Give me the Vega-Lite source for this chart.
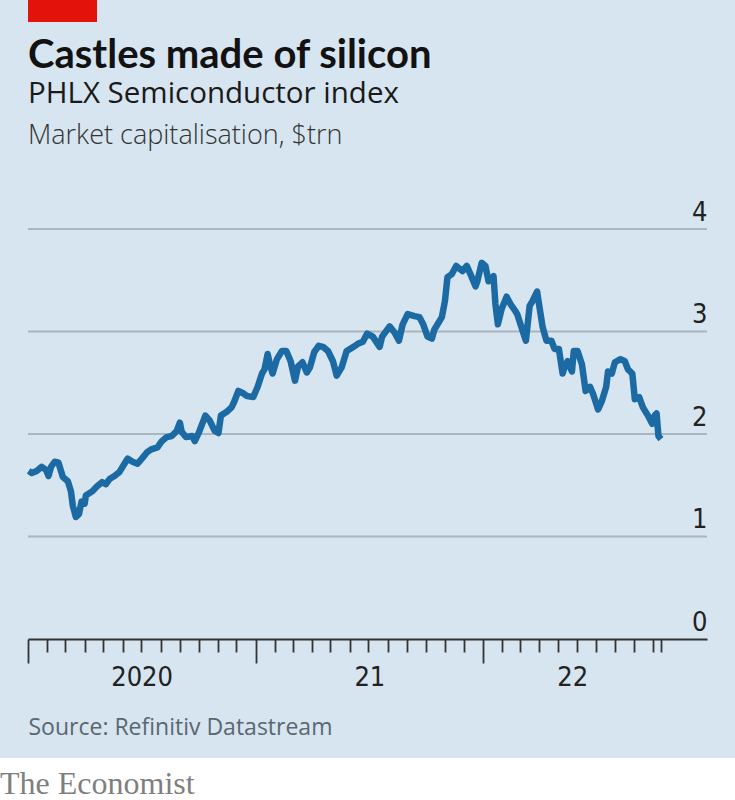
{
  "$schema": "https://vega.github.io/schema/vega-lite/v6.json",
  "background": "#d6e5ef",
  "padding": 0,
  "config": {"view": {"stroke": null}},
  "spacing": 19,
  "vconcat": [
    {
      "spacing": 2,
      "vconcat": [
        {
          "width": 97,
          "height": 22,
          "title": {
            "text": "Castles made of silicon",
            "orient": "bottom",
            "anchor": "start",
            "frame": "group",
            "dx": 28,
            "offset": 14,
            "font": "Lato",
            "fontSize": 40,
            "fontWeight": "bold",
            "color": "#121212"
          },
          "data": {"values": [{"a": 0, "b": 1}]},
          "mark": {"type": "rect", "color": "#e3120b"},
          "encoding": {
            "x": {"field": "a", "type": "quantitative", "scale": {"domain": [0, 1], "range": [28, 97]}, "axis": null},
            "x2": {"field": "b"}
          }
        },
        {
          "width": 707,
          "height": 410,
          "title": {
            "text": "PHLX Semiconductor index",
            "subtitle": "Market capitalisation, $trn",
            "anchor": "start",
            "dx": 28,
            "offset": 48,
            "font": "Open Sans",
            "fontSize": 29.5,
            "fontWeight": "normal",
            "color": "#1a1a1a",
            "subtitleFont": "Open Sans",
            "subtitleFontSize": 27,
            "subtitleFontWeight": 300,
            "subtitleColor": "#333333",
            "subtitlePadding": 14
          },
          "layer": [
            {
              "data": {"values": [{"v": 1}, {"v": 2}, {"v": 3}, {"v": 4}]},
              "mark": {"type": "rule", "color": "#a8b6bf", "strokeWidth": 2},
              "encoding": {
                "x": {"datum": {"year": 2020, "month": 1, "date": 1}, "type": "temporal", "title": null},
                "x2": {"datum": {"year": 2022, "month": 12, "date": 27}},
                "y": {"field": "v", "type": "quantitative", "title": null}
              }
            },
            {
              "data": {"values": [
                {"date": "2020-01-02", "value": 1.64}, {"date": "2020-01-07", "value": 1.62}, {"date": "2020-01-15", "value": 1.64},
                {"date": "2020-01-23", "value": 1.68}, {"date": "2020-01-30", "value": 1.65}, {"date": "2020-02-03", "value": 1.59},
                {"date": "2020-02-07", "value": 1.68}, {"date": "2020-02-13", "value": 1.73}, {"date": "2020-02-19", "value": 1.72},
                {"date": "2020-02-26", "value": 1.58}, {"date": "2020-03-05", "value": 1.54}, {"date": "2020-03-10", "value": 1.44},
                {"date": "2020-03-13", "value": 1.30}, {"date": "2020-03-18", "value": 1.19}, {"date": "2020-03-23", "value": 1.22},
                {"date": "2020-03-27", "value": 1.34}, {"date": "2020-04-01", "value": 1.32}, {"date": "2020-04-03", "value": 1.40},
                {"date": "2020-04-13", "value": 1.44}, {"date": "2020-04-21", "value": 1.49}, {"date": "2020-04-29", "value": 1.53},
                {"date": "2020-05-05", "value": 1.51}, {"date": "2020-05-11", "value": 1.56}, {"date": "2020-05-19", "value": 1.59},
                {"date": "2020-05-27", "value": 1.63}, {"date": "2020-06-04", "value": 1.71}, {"date": "2020-06-09", "value": 1.76},
                {"date": "2020-06-17", "value": 1.73}, {"date": "2020-06-25", "value": 1.71}, {"date": "2020-07-02", "value": 1.76},
                {"date": "2020-07-10", "value": 1.82}, {"date": "2020-07-17", "value": 1.85}, {"date": "2020-07-27", "value": 1.87},
                {"date": "2020-08-03", "value": 1.93}, {"date": "2020-08-11", "value": 1.97}, {"date": "2020-08-19", "value": 1.98},
                {"date": "2020-08-27", "value": 2.03}, {"date": "2020-09-01", "value": 2.11}, {"date": "2020-09-04", "value": 2.02},
                {"date": "2020-09-11", "value": 1.97}, {"date": "2020-09-21", "value": 1.98}, {"date": "2020-09-25", "value": 1.93},
                {"date": "2020-10-02", "value": 2.02}, {"date": "2020-10-12", "value": 2.18}, {"date": "2020-10-19", "value": 2.13},
                {"date": "2020-10-27", "value": 2.03}, {"date": "2020-11-02", "value": 2.01}, {"date": "2020-11-06", "value": 2.18},
                {"date": "2020-11-16", "value": 2.22}, {"date": "2020-11-23", "value": 2.26}, {"date": "2020-11-27", "value": 2.31},
                {"date": "2020-12-04", "value": 2.42}, {"date": "2020-12-11", "value": 2.40}, {"date": "2020-12-18", "value": 2.37},
                {"date": "2020-12-28", "value": 2.36}, {"date": "2021-01-04", "value": 2.46}, {"date": "2021-01-11", "value": 2.59},
                {"date": "2021-01-15", "value": 2.63}, {"date": "2021-01-20", "value": 2.78}, {"date": "2021-01-25", "value": 2.65},
                {"date": "2021-01-28", "value": 2.59}, {"date": "2021-02-04", "value": 2.73}, {"date": "2021-02-12", "value": 2.81},
                {"date": "2021-02-19", "value": 2.81}, {"date": "2021-02-26", "value": 2.71}, {"date": "2021-03-05", "value": 2.52},
                {"date": "2021-03-10", "value": 2.66}, {"date": "2021-03-17", "value": 2.70}, {"date": "2021-03-24", "value": 2.60},
                {"date": "2021-03-29", "value": 2.65}, {"date": "2021-04-05", "value": 2.80}, {"date": "2021-04-12", "value": 2.86},
                {"date": "2021-04-19", "value": 2.85}, {"date": "2021-04-27", "value": 2.81}, {"date": "2021-05-05", "value": 2.71},
                {"date": "2021-05-11", "value": 2.57}, {"date": "2021-05-19", "value": 2.65}, {"date": "2021-05-27", "value": 2.81},
                {"date": "2021-06-07", "value": 2.85}, {"date": "2021-06-14", "value": 2.88}, {"date": "2021-06-22", "value": 2.90},
                {"date": "2021-06-29", "value": 2.98}, {"date": "2021-07-08", "value": 2.95}, {"date": "2021-07-19", "value": 2.85},
                {"date": "2021-07-23", "value": 2.95}, {"date": "2021-08-04", "value": 3.05}, {"date": "2021-08-12", "value": 2.99},
                {"date": "2021-08-19", "value": 2.91}, {"date": "2021-08-25", "value": 3.07}, {"date": "2021-09-02", "value": 3.17},
                {"date": "2021-09-13", "value": 3.15}, {"date": "2021-09-21", "value": 3.14}, {"date": "2021-09-27", "value": 3.07},
                {"date": "2021-10-04", "value": 2.95}, {"date": "2021-10-11", "value": 2.93}, {"date": "2021-10-15", "value": 3.02},
                {"date": "2021-10-27", "value": 3.14}, {"date": "2021-11-01", "value": 3.30}, {"date": "2021-11-05", "value": 3.53},
                {"date": "2021-11-12", "value": 3.56}, {"date": "2021-11-19", "value": 3.64}, {"date": "2021-11-29", "value": 3.59},
                {"date": "2021-12-06", "value": 3.64}, {"date": "2021-12-14", "value": 3.53}, {"date": "2021-12-20", "value": 3.44},
                {"date": "2021-12-23", "value": 3.49}, {"date": "2021-12-30", "value": 3.67}, {"date": "2022-01-05", "value": 3.64},
                {"date": "2022-01-10", "value": 3.49}, {"date": "2022-01-18", "value": 3.54}, {"date": "2022-01-21", "value": 3.27},
                {"date": "2022-01-25", "value": 3.07}, {"date": "2022-01-31", "value": 3.22}, {"date": "2022-02-08", "value": 3.34},
                {"date": "2022-02-14", "value": 3.27}, {"date": "2022-02-22", "value": 3.20}, {"date": "2022-02-25", "value": 3.17},
                {"date": "2022-03-04", "value": 3.04}, {"date": "2022-03-11", "value": 2.91}, {"date": "2022-03-17", "value": 3.25},
                {"date": "2022-03-22", "value": 3.30}, {"date": "2022-03-29", "value": 3.39}, {"date": "2022-04-01", "value": 3.27},
                {"date": "2022-04-07", "value": 3.04}, {"date": "2022-04-13", "value": 2.91}, {"date": "2022-04-21", "value": 2.91},
                {"date": "2022-04-26", "value": 2.83}, {"date": "2022-05-03", "value": 2.83}, {"date": "2022-05-09", "value": 2.59},
                {"date": "2022-05-12", "value": 2.65}, {"date": "2022-05-17", "value": 2.71}, {"date": "2022-05-24", "value": 2.61},
                {"date": "2022-05-27", "value": 2.81}, {"date": "2022-06-02", "value": 2.81}, {"date": "2022-06-09", "value": 2.68},
                {"date": "2022-06-15", "value": 2.42}, {"date": "2022-06-22", "value": 2.46}, {"date": "2022-06-27", "value": 2.39},
                {"date": "2022-07-05", "value": 2.24}, {"date": "2022-07-11", "value": 2.32}, {"date": "2022-07-18", "value": 2.46},
                {"date": "2022-07-21", "value": 2.61}, {"date": "2022-07-27", "value": 2.59}, {"date": "2022-08-01", "value": 2.70},
                {"date": "2022-08-10", "value": 2.73}, {"date": "2022-08-17", "value": 2.71}, {"date": "2022-08-22", "value": 2.63},
                {"date": "2022-08-29", "value": 2.59}, {"date": "2022-09-02", "value": 2.34}, {"date": "2022-09-09", "value": 2.36},
                {"date": "2022-09-15", "value": 2.26}, {"date": "2022-09-23", "value": 2.18}, {"date": "2022-09-30", "value": 2.10},
                {"date": "2022-10-04", "value": 2.18}, {"date": "2022-10-07", "value": 2.20}, {"date": "2022-10-10", "value": 1.98},
                {"date": "2022-10-14", "value": 1.95}
              ]},
              "mark": {"type": "line", "color": "#1b6aa4", "strokeWidth": 6.5, "strokeJoin": "round"},
              "encoding": {
                "x": {
                  "field": "date",
                  "type": "temporal",
                  "scale": {
                    "domain": [{"year": 2020, "month": 1, "date": 1}, {"year": 2022, "month": 12, "date": 27}],
                    "range": [28, 707]
                  },
                  "axis": {
                    "title": "Source: Refinitiv Datastream",
                    "titleAnchor": "start",
                    "titleAlign": "left",
                    "titleFont": "Open Sans",
                    "titleFontSize": 23,
                    "titleFontWeight": "normal",
                    "titleColor": "#5b6770",
                    "titlePadding": 15,
                    "grid": false,
                    "domainColor": "#333333",
                    "domainWidth": 2,
                    "tickColor": "#333333",
                    "tickWidth": 1.8,
                    "tickCount": 200,
                    "tickSize": {"condition": {"test": "month(datum.value) == 0 && date(datum.value) == 1 && hours(datum.value) == 0", "value": 24}, "value": 13},
                    "tickOpacity": {"condition": {"test": "hours(datum.value) == 12", "value": 0}, "value": 1},
                    "labelExpr": "hours(datum.value) == 12 ? (year(datum.value) == 2020 ? '2020' : timeFormat(datum.value, '%y')) : ''",
                    "labelFont": "Liberation Sans Narrow, DejaVu Sans Condensed, Roboto",
                    "labelFontSize": 27,
                    "labelColor": "#222222",
                    "labelPadding": 12,
                    "labelOverlap": false,
                    "labelFlush": false,
                    "labelBound": false,
                    "values": [
                      {"year": 2020, "month": 1, "date": 1}, {"year": 2020, "month": 2, "date": 1}, {"year": 2020, "month": 3, "date": 1},
                      {"year": 2020, "month": 4, "date": 1}, {"year": 2020, "month": 5, "date": 1}, {"year": 2020, "month": 6, "date": 1},
                      {"year": 2020, "month": 7, "date": 1}, {"year": 2020, "month": 7, "date": 1, "hours": 12},
                      {"year": 2020, "month": 8, "date": 1}, {"year": 2020, "month": 9, "date": 1},
                      {"year": 2020, "month": 10, "date": 1}, {"year": 2020, "month": 11, "date": 1}, {"year": 2020, "month": 12, "date": 1},
                      {"year": 2021, "month": 1, "date": 1}, {"year": 2021, "month": 2, "date": 1}, {"year": 2021, "month": 3, "date": 1},
                      {"year": 2021, "month": 4, "date": 1}, {"year": 2021, "month": 5, "date": 1}, {"year": 2021, "month": 6, "date": 1},
                      {"year": 2021, "month": 7, "date": 1}, {"year": 2021, "month": 7, "date": 2, "hours": 12},
                      {"year": 2021, "month": 8, "date": 1}, {"year": 2021, "month": 9, "date": 1},
                      {"year": 2021, "month": 10, "date": 1}, {"year": 2021, "month": 11, "date": 1}, {"year": 2021, "month": 12, "date": 1},
                      {"year": 2022, "month": 1, "date": 1}, {"year": 2022, "month": 2, "date": 1}, {"year": 2022, "month": 3, "date": 1},
                      {"year": 2022, "month": 4, "date": 1}, {"year": 2022, "month": 5, "date": 1},
                      {"year": 2022, "month": 5, "date": 24, "hours": 12}, {"year": 2022, "month": 6, "date": 1},
                      {"year": 2022, "month": 7, "date": 1}, {"year": 2022, "month": 8, "date": 1}, {"year": 2022, "month": 9, "date": 1},
                      {"year": 2022, "month": 10, "date": 1}, {"year": 2022, "month": 10, "date": 14}
                    ]
                  }
                },
                "y": {
                  "field": "value",
                  "type": "quantitative",
                  "scale": {"domain": [0, 4], "nice": false},
                  "axis": {
                    "title": null,
                    "orient": "right",
                    "values": [0, 1, 2, 3, 4],
                    "format": "d",
                    "grid": false,
                    "domain": false,
                    "ticks": false,
                    "tickSize": 0,
                    "labelAlign": "right",
                    "labelBaseline": "alphabetic",
                    "labelOffset": -9,
                    "labelPadding": 0,
                    "labelFont": "Liberation Sans Narrow, DejaVu Sans Condensed, Roboto",
                    "labelFontSize": 27,
                    "labelColor": "#222222"
                  }
                }
              }
            }
          ]
        }
      ]
    },
    {
      "width": 735,
      "height": 45,
      "view": {"fill": "#ffffff", "stroke": null},
      "data": {"values": [{"label": "The Economist", "px": 0, "py": 0.2}]},
      "mark": {"type": "text", "align": "left", "baseline": "alphabetic", "font": "Liberation Serif", "fontSize": 32, "color": "#7f7f7f"},
      "encoding": {
        "text": {"field": "label"},
        "x": {"field": "px", "type": "quantitative", "scale": {"domain": [0, 1]}, "axis": null},
        "y": {"field": "py", "type": "quantitative", "scale": {"domain": [0, 1]}, "axis": null}
      }
    }
  ]
}
